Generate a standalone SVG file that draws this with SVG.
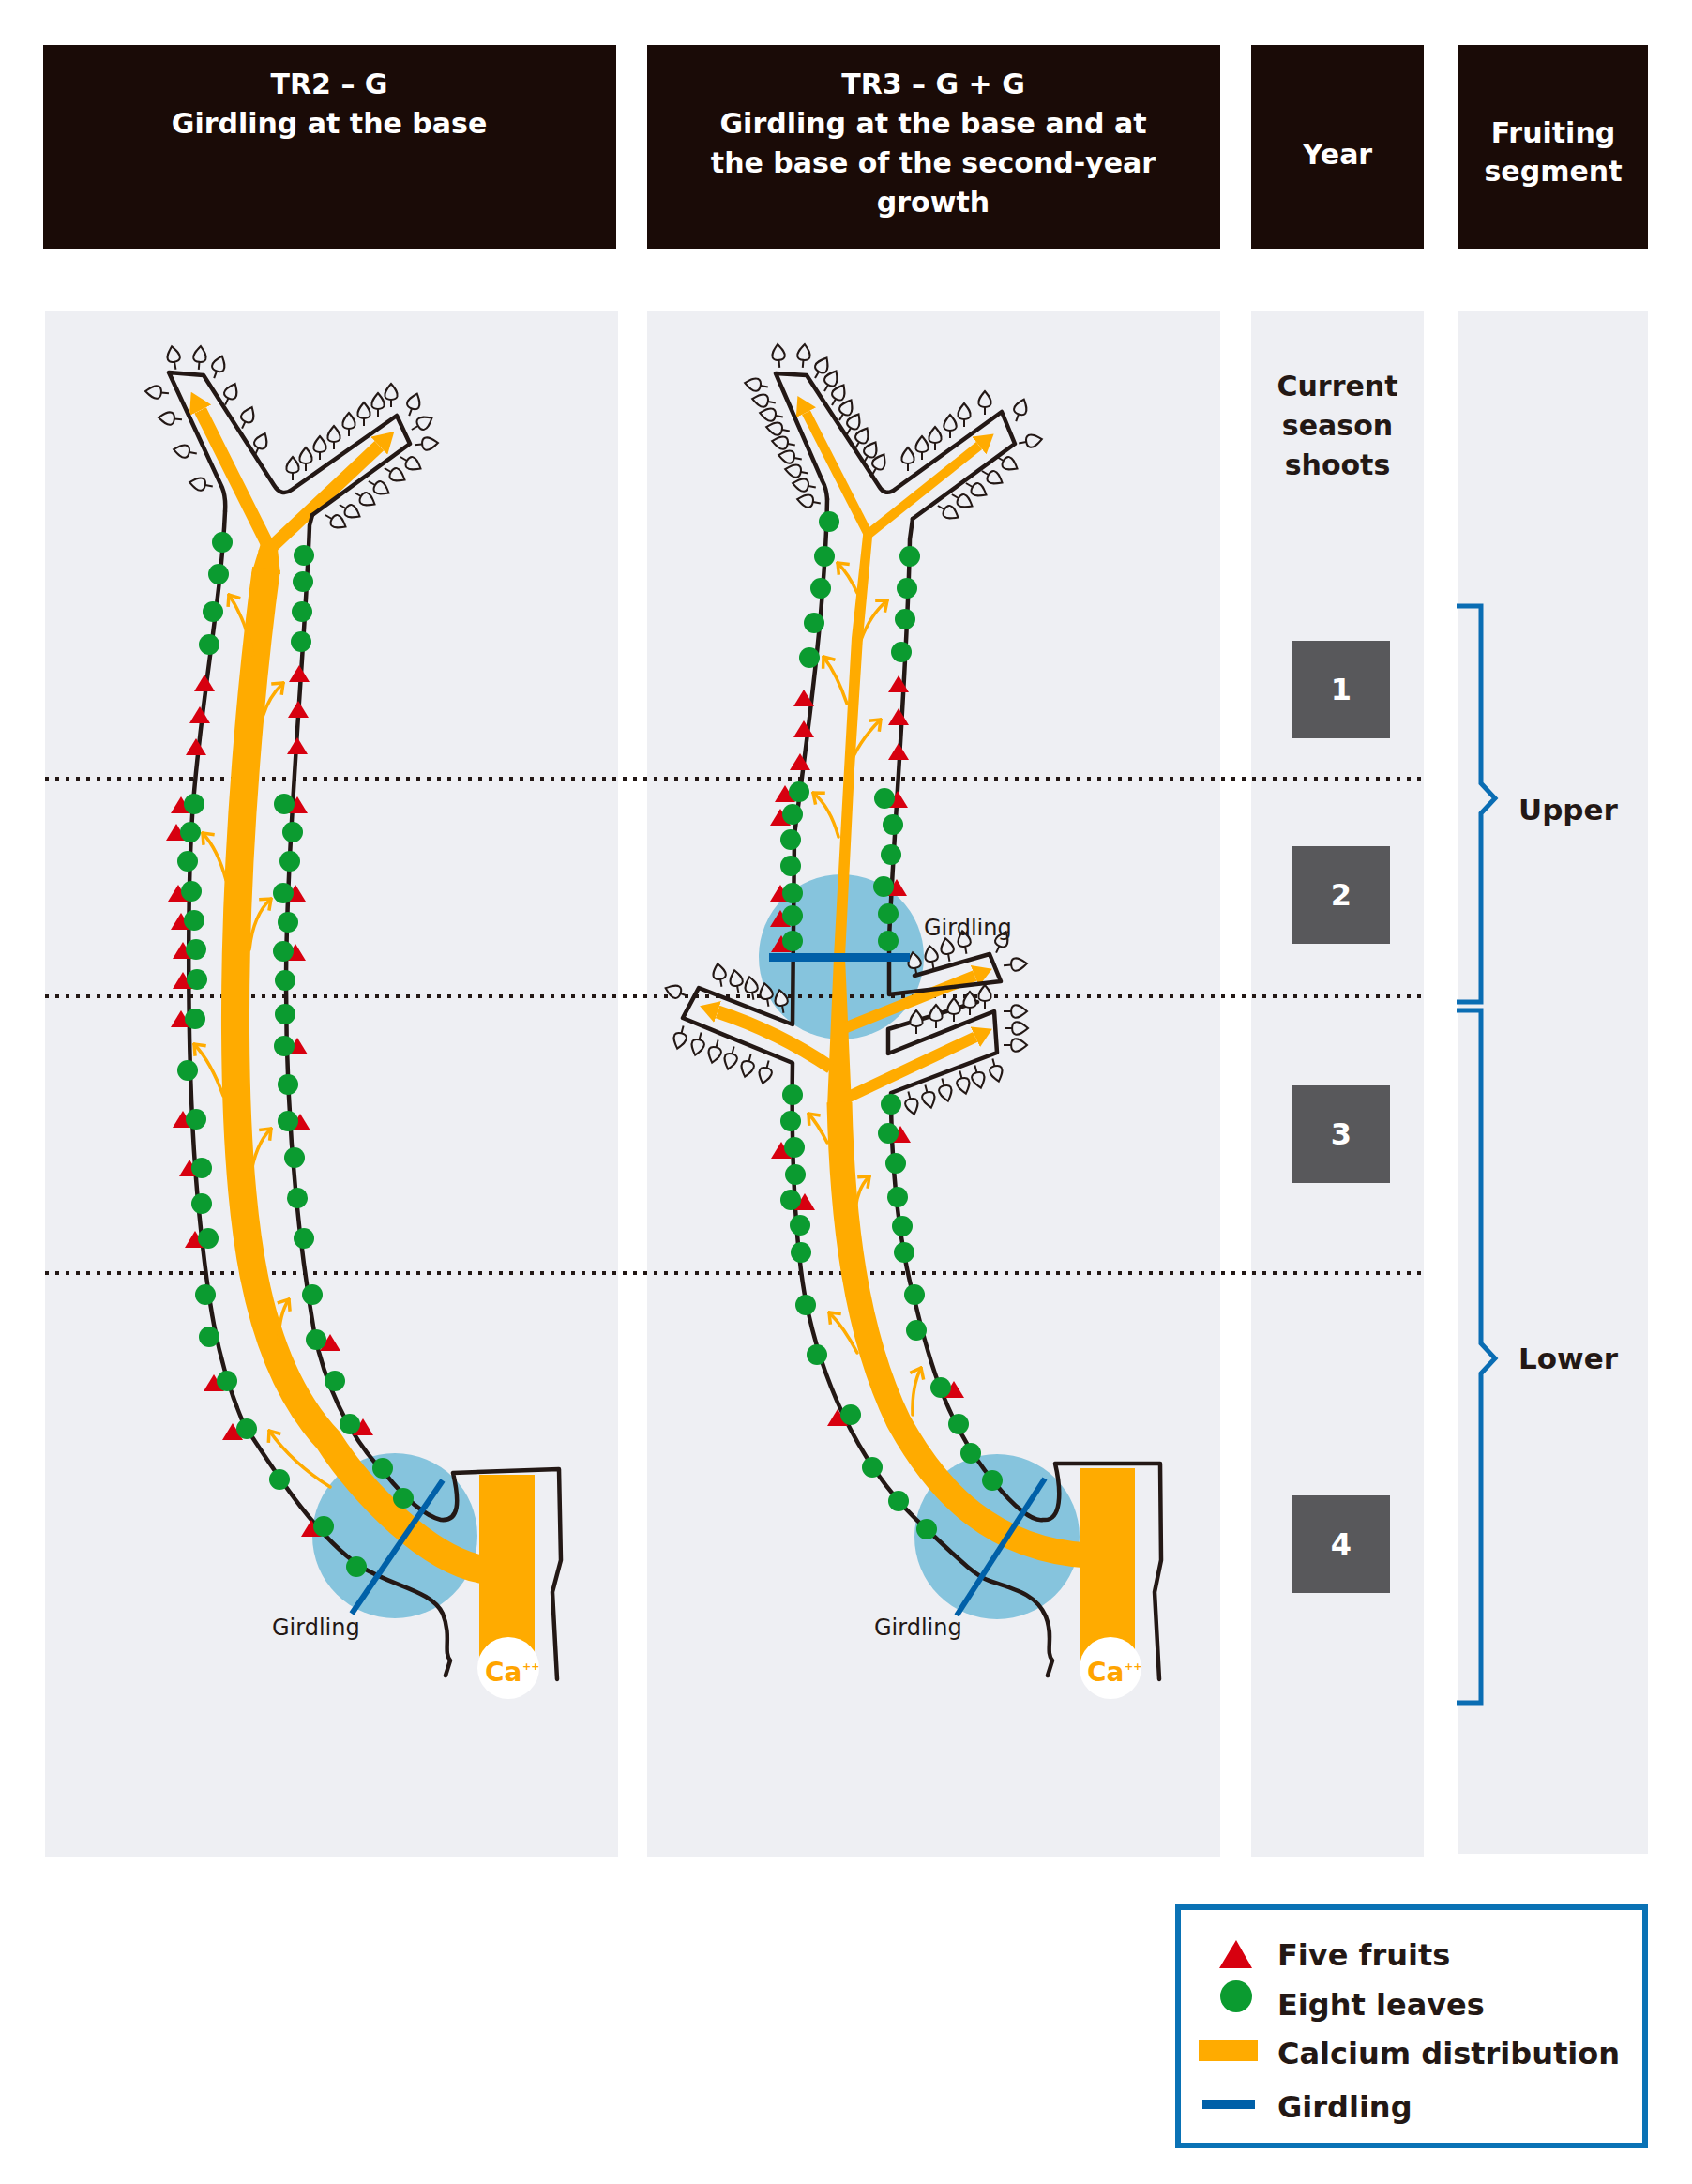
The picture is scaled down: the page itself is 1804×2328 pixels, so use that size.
<svg xmlns="http://www.w3.org/2000/svg" xmlns:xlink="http://www.w3.org/1999/xlink" width="1804" height="2328" viewBox="0 0 1804 2328">
<style>
.hd{fill:#1a0b07}
.pn{fill:#eeeff3}
.ht{font-family:"DejaVu Sans","Liberation Sans",sans-serif;font-weight:bold;font-size:30px;fill:#fff;text-anchor:middle}
.bt{font-family:"DejaVu Sans","Liberation Sans",sans-serif;font-weight:bold;font-size:30px;fill:#231815;text-anchor:middle}
.nb{font-family:"DejaVu Sans","Liberation Sans",sans-serif;font-weight:bold;font-size:32px;fill:#fff;text-anchor:middle}
.ul{font-family:"DejaVu Sans","Liberation Sans",sans-serif;font-weight:bold;font-size:31px;fill:#231815}
.lg{font-family:"DejaVu Sans","Liberation Sans",sans-serif;font-weight:bold;font-size:32px;fill:#231815}
.gl{font-family:"DejaVu Sans","Liberation Sans",sans-serif;font-size:24px;fill:#231815}
.ca{font-family:"DejaVu Sans","Liberation Sans",sans-serif;font-weight:bold;font-size:28px;fill:#ffa400}
.cap{font-family:"DejaVu Sans","Liberation Sans",sans-serif;font-weight:bold;font-size:11px;fill:#ffa400}
.dot{stroke:#231815;stroke-width:4;stroke-dasharray:4 7;fill:none}
.ln{fill:none;stroke:#231815;stroke-width:4.5;stroke-linejoin:round;stroke-linecap:round}
.or{fill:none;stroke:#ffab00;stroke-linecap:butt}
.th{fill:none;stroke:#ffab00;stroke-width:3.5;stroke-linecap:round}
.gc{fill:#86c4dd}
.gd{stroke:#0060a8;stroke-width:6}
.yb{fill:#58585b}
.br{fill:none;stroke:#0a6db3;stroke-width:5}
.lfs{fill:none;stroke:#231815;stroke-width:2}
.lfb{fill:#eeeff3;stroke:#231815;stroke-width:2}
.g{fill:#0b9b30}
.r{fill:#d7000f}
</style>
<defs>
<g id="lf"><path class="lfs" d="M0,6 L0,14"/><path class="lfb" d="M0,-11 C5,-5 7.5,-1.5 6.5,2.5 C5,7 -5,7 -6.5,2.5 C-7.5,-1.5 -5,-5 0,-11 Z"/></g>
<path id="tr" class="r" d="M-11,8 L11,8 L0,-10 Z"/>
<marker id="ah" markerUnits="userSpaceOnUse" viewBox="0 -13 22 26" refX="0" refY="0" markerWidth="22" markerHeight="26" orient="auto"><path d="M0,-13 L22,0 L0,13 Z" fill="#ffab00"/></marker>
<marker id="ah2" markerUnits="userSpaceOnUse" viewBox="0 -12 20 24" refX="0" refY="0" markerWidth="20" markerHeight="24" orient="auto"><path d="M0,-12 L20,0 L0,12 Z" fill="#ffab00"/></marker>
<marker id="ch" markerUnits="userSpaceOnUse" viewBox="-12 -10 14 20" refX="0" refY="0" markerWidth="14" markerHeight="20" orient="auto"><path d="M-10,-8 L0,0 L-10,8" fill="none" stroke="#ffab00" stroke-width="3.5" stroke-linejoin="miter"/></marker>
</defs>
<rect width="1804" height="2328" fill="#fff"/>

<g id="headers">
<rect class="hd" x="46" y="48" width="611" height="217"/>
<rect class="hd" x="690" y="48" width="611" height="217"/>
<rect class="hd" x="1334" y="48" width="184" height="217"/>
<rect class="hd" x="1555" y="48" width="202" height="217"/>
<text class="ht" x="351" y="100">TR2 – G</text>
<text class="ht" x="351" y="142">Girdling at the base</text>
<text class="ht" x="995" y="100">TR3 – G + G</text>
<text class="ht" x="995" y="142">Girdling at the base and at</text>
<text class="ht" x="995" y="184">the base of the second-year</text>
<text class="ht" x="995" y="226">growth</text>
<text class="ht" x="1426" y="175">Year</text>
<text class="ht" x="1656" y="152">Fruiting</text>
<text class="ht" x="1656" y="193">segment</text>
</g>

<g id="panels">
<rect class="pn" x="48" y="331" width="611" height="1648"/>
<rect class="pn" x="690" y="331" width="611" height="1648"/>
<rect class="pn" x="1334" y="331" width="184" height="1648"/>
<rect class="pn" x="1555" y="331" width="202" height="1645"/>
</g>

<g id="girdling-zones">
<circle class="gc" cx="421" cy="1637" r="88"/>
<circle class="gc" cx="897" cy="1020" r="88"/>
<circle class="gc" cx="1063" cy="1638" r="88"/>
</g>

<g id="dotted-lines">
<line class="dot" x1="48" y1="830" x2="1518" y2="830"/>
<line class="dot" x1="48" y1="1062" x2="1518" y2="1062"/>
<line class="dot" x1="48" y1="1357" x2="1518" y2="1357"/>
</g>

<g id="plant-tr2">
<g id="tr2-calcium">
<path class="or" stroke-width="14" d="M290,590 L213.6,437.3" marker-end="url(#ah)"/>
<path class="or" stroke-width="14" d="M280,592 L404.3,475.1" marker-end="url(#ah)"/>
<polygon points="279,576 295,576 299,612 268,612" fill="#ffab00"/>
<path class="or" stroke-width="30" d="M284,606 C271,700 250,900 251,1100 C252,1300 270,1450 350,1535 C385,1590 460,1668 522,1674"/>
<rect x="511" y="1572" width="59" height="206" fill="#ffab00"/>
<path class="th" d="M270,700 Q262,660 244,634" marker-end="url(#ch)"/>
<path class="th" d="M278,772 Q284,745 302,728" marker-end="url(#ch)"/>
<path class="th" d="M241,938 Q232,905 216,888" marker-end="url(#ch)"/>
<path class="th" d="M266,1012 Q270,975 289,958" marker-end="url(#ch)"/>
<path class="th" d="M238,1168 Q225,1132 207,1113" marker-end="url(#ch)"/>
<path class="th" d="M267,1255 Q272,1220 289,1203" marker-end="url(#ch)"/>
<path class="th" d="M297,1428 Q298,1400 308,1385" marker-end="url(#ch)"/>
<path class="th" d="M352,1585 Q312,1560 287,1525" marker-end="url(#ch)"/>
</g>
<g id="tr2-outline">
<path class="ln" d="M240,545 Q241,530 237,520 L180,397 L217,400 L292,517 Q300,530 311,522 L423,443 L437,473 L333,549"/>
<path class="ln" d="M240,545 C236,640 212,760 205,870 C200,950 198,1150 212,1290 C221,1380 230,1450 260,1518 C300,1580 340,1640 385,1670 C420,1692 460,1695 472,1720 C482,1745 472,1760 480,1770 L475,1786"/>
<path class="ln" d="M333,549 L330,560 C326,680 305,900 305,1050 C305,1200 318,1320 335,1420 C345,1470 370,1530 410,1570 C430,1595 450,1615 470,1620 C490,1622 490,1600 483,1570 L596,1566 L598,1663 L589,1697 L594,1790"/>
</g>
<g id="tr2-leaves">
<use href="#lf" transform="translate(185,380) rotate(-10)"/>
<use href="#lf" transform="translate(213,380) rotate(5)"/>
<use href="#lf" transform="translate(233,390) rotate(20)"/>
<use href="#lf" transform="translate(246,419) rotate(25)"/>
<use href="#lf" transform="translate(264,444) rotate(25)"/>
<use href="#lf" transform="translate(278,472) rotate(25)"/>
<use href="#lf" transform="translate(166,418) rotate(-85)"/>
<use href="#lf" transform="translate(180,446) rotate(-85)"/>
<use href="#lf" transform="translate(196,481) rotate(-80)"/>
<use href="#lf" transform="translate(213,516) rotate(-80)"/>
<use href="#lf" transform="translate(312,498) rotate(0)"/>
<use href="#lf" transform="translate(326,488) rotate(0)"/>
<use href="#lf" transform="translate(341,476) rotate(0)"/>
<use href="#lf" transform="translate(356,465) rotate(0)"/>
<use href="#lf" transform="translate(372,451) rotate(0)"/>
<use href="#lf" transform="translate(388,440) rotate(0)"/>
<use href="#lf" transform="translate(403,430) rotate(0)"/>
<use href="#lf" transform="translate(417,420) rotate(0)"/>
<use href="#lf" transform="translate(441,430) rotate(20)"/>
<use href="#lf" transform="translate(451,451) rotate(60)"/>
<use href="#lf" transform="translate(456,473) rotate(85)"/>
<use href="#lf" transform="translate(439,494) rotate(120)"/>
<use href="#lf" transform="translate(422,506) rotate(120)"/>
<use href="#lf" transform="translate(405,520) rotate(120)"/>
<use href="#lf" transform="translate(390,532) rotate(120)"/>
<use href="#lf" transform="translate(374,545) rotate(120)"/>
<use href="#lf" transform="translate(359,556) rotate(120)"/>
</g>
<circle cx="542" cy="1778" r="33" fill="#fff"/>
<text class="ca" x="517" y="1792">Ca</text><text class="cap" x="557" y="1780">++</text>
<line class="gd" x1="472" y1="1578" x2="375" y2="1720"/>
<g id="tr2-fruits">
<use href="#tr" x="218" y="729"/><use href="#tr" x="213" y="763"/><use href="#tr" x="209" y="797"/><use href="#tr" x="193" y="859"/><use href="#tr" x="188" y="888"/><use href="#tr" x="190" y="953"/><use href="#tr" x="193" y="983"/><use href="#tr" x="195" y="1014"/><use href="#tr" x="195" y="1046"/><use href="#tr" x="193" y="1087"/><use href="#tr" x="195" y="1194"/><use href="#tr" x="202" y="1246"/><use href="#tr" x="208" y="1322"/><use href="#tr" x="228" y="1475"/><use href="#tr" x="248" y="1527"/><use href="#tr" x="332" y="1630"/>
<use href="#tr" x="319" y="719"/><use href="#tr" x="318" y="757"/><use href="#tr" x="317" y="796"/><use href="#tr" x="317" y="859"/><use href="#tr" x="315" y="953"/><use href="#tr" x="315" y="1016"/><use href="#tr" x="317" y="1116"/><use href="#tr" x="320" y="1197"/><use href="#tr" x="352" y="1432"/><use href="#tr" x="387" y="1522"/>
</g>
<g id="tr2-leafdots" class="g">
<circle cx="237" cy="578" r="11"/><circle cx="233" cy="612" r="11"/><circle cx="227" cy="652" r="11"/><circle cx="223" cy="687" r="11"/><circle cx="207" cy="857" r="11"/><circle cx="203" cy="887" r="11"/><circle cx="200" cy="918" r="11"/><circle cx="204" cy="950" r="11"/><circle cx="207" cy="981" r="11"/><circle cx="209" cy="1012" r="11"/><circle cx="210" cy="1044" r="11"/><circle cx="208" cy="1086" r="11"/><circle cx="200" cy="1141" r="11"/><circle cx="209" cy="1193" r="11"/><circle cx="215" cy="1245" r="11"/><circle cx="215" cy="1283" r="11"/><circle cx="222" cy="1320" r="11"/><circle cx="219" cy="1380" r="11"/><circle cx="223" cy="1425" r="11"/><circle cx="242" cy="1472" r="11"/><circle cx="263" cy="1523" r="11"/><circle cx="298" cy="1577" r="11"/><circle cx="345" cy="1627" r="11"/><circle cx="380" cy="1670" r="11"/>
<circle cx="324" cy="592" r="11"/><circle cx="323" cy="620" r="11"/><circle cx="322" cy="652" r="11"/><circle cx="321" cy="684" r="11"/><circle cx="303" cy="857" r="11"/><circle cx="312" cy="887" r="11"/><circle cx="309" cy="918" r="11"/><circle cx="302" cy="952" r="11"/><circle cx="307" cy="983" r="11"/><circle cx="302" cy="1014" r="11"/><circle cx="304" cy="1045" r="11"/><circle cx="304" cy="1081" r="11"/><circle cx="303" cy="1115" r="11"/><circle cx="307" cy="1156" r="11"/><circle cx="307" cy="1195" r="11"/><circle cx="314" cy="1234" r="11"/><circle cx="317" cy="1277" r="11"/><circle cx="324" cy="1320" r="11"/><circle cx="333" cy="1380" r="11"/><circle cx="337" cy="1428" r="11"/><circle cx="357" cy="1472" r="11"/><circle cx="373" cy="1518" r="11"/><circle cx="408" cy="1565" r="11"/><circle cx="430" cy="1597" r="11"/>
</g>
<text class="gl" x="290" y="1743">Girdling</text>
</g>

<g id="plant-tr3">
<g id="tr3-calcium">
<path class="or" stroke-width="10" d="M927,572 L859.5,439.7" marker-end="url(#ah2)"/>
<path class="or" stroke-width="10" d="M925,570 L1044,475" marker-end="url(#ah2)"/>
<polygon points="921,562 931,562 920,680 911,820 901,1020 908,1180 882,1180 889,1020 900,820 908,680" fill="#ffab00"/>
<path class="or" stroke-width="27" d="M895,1175 C898,1300 912,1420 958,1515 C1000,1592 1060,1652 1160,1658"/>
<path class="or" stroke-width="12" d="M900,1096 L1039.3,1040.1" marker-end="url(#ah2)"/>
<path class="or" stroke-width="12" d="M903,1170 L1039.8,1105.3" marker-end="url(#ah2)"/>
<path class="or" stroke-width="14" d="M886,1138 Q830,1100 765.1,1078.5" marker-end="url(#ah2)"/>
<rect x="1152" y="1565" width="58" height="213" fill="#ffab00"/>
<path class="th" d="M914,632 Q905,612 893,600" marker-end="url(#ch)"/>
<path class="th" d="M918,682 Q928,655 946,640" marker-end="url(#ch)"/>
<path class="th" d="M903,750 Q893,720 878,700" marker-end="url(#ch)"/>
<path class="th" d="M903,822 Q915,790 939,767" marker-end="url(#ch)"/>
<path class="th" d="M894,892 Q885,860 867,845" marker-end="url(#ch)"/>
<path class="th" d="M882,1218 Q872,1198 862,1187" marker-end="url(#ch)"/>
<path class="th" d="M912,1288 Q915,1265 927,1254" marker-end="url(#ch)"/>
<path class="th" d="M914,1442 Q900,1415 884,1399" marker-end="url(#ch)"/>
<path class="th" d="M973,1508 Q972,1478 982,1458" marker-end="url(#ch)"/>
</g>
<g id="tr3-outline">
<path class="ln" d="M882,532 Q881,520 877,513 L827,398 L860,400 L937,518 Q944,530 955,521 L1068,439 L1082,473 L973,553"/>
<path class="ln" d="M882,532 C880,650 860,790 847,890 L845,1092 L745,1053 L728,1085 L845,1133 C843,1250 850,1350 862,1400 C880,1480 920,1570 988,1630 C1020,1660 1040,1680 1055,1685 C1085,1695 1105,1700 1115,1723 C1124,1745 1114,1760 1122,1770 L1117,1786"/>
<path class="ln" d="M973,553 L970,575 C968,700 955,850 948,1000 L948,1060 L1067,1046 L1055,1017 L975,1040"/>
<path class="ln" d="M1042,1068 L947,1097 L947,1123 L1060,1078 L1063,1122 L950,1165 C950,1260 962,1340 975,1385 C990,1450 1010,1520 1060,1580 C1080,1605 1100,1622 1112,1620 C1132,1622 1132,1590 1125,1560 L1237,1560 L1238,1663 L1231,1697 L1236,1790"/>
</g>
<g id="tr3-leaves">
<use href="#lf" transform="translate(805,410) rotate(-80)"/>
<use href="#lf" transform="translate(813,427) rotate(-80)"/>
<use href="#lf" transform="translate(821,442) rotate(-80)"/>
<use href="#lf" transform="translate(828,457) rotate(-80)"/>
<use href="#lf" transform="translate(834,472) rotate(-80)"/>
<use href="#lf" transform="translate(841,487) rotate(-80)"/>
<use href="#lf" transform="translate(848,502) rotate(-80)"/>
<use href="#lf" transform="translate(856,517) rotate(-80)"/>
<use href="#lf" transform="translate(861,534) rotate(-80)"/>
<use href="#lf" transform="translate(830,378) rotate(-5)"/>
<use href="#lf" transform="translate(857,378) rotate(5)"/>
<use href="#lf" transform="translate(876,391) rotate(30)"/>
<use href="#lf" transform="translate(886,405) rotate(30)"/>
<use href="#lf" transform="translate(894,420) rotate(30)"/>
<use href="#lf" transform="translate(902,436) rotate(30)"/>
<use href="#lf" transform="translate(910,451) rotate(30)"/>
<use href="#lf" transform="translate(919,466) rotate(30)"/>
<use href="#lf" transform="translate(928,481) rotate(30)"/>
<use href="#lf" transform="translate(937,494) rotate(30)"/>
<use href="#lf" transform="translate(968,488) rotate(0)"/>
<use href="#lf" transform="translate(983,476) rotate(0)"/>
<use href="#lf" transform="translate(997,466) rotate(0)"/>
<use href="#lf" transform="translate(1013,453) rotate(0)"/>
<use href="#lf" transform="translate(1028,441) rotate(0)"/>
<use href="#lf" transform="translate(1050,428) rotate(0)"/>
<use href="#lf" transform="translate(1088,436) rotate(20)"/>
<use href="#lf" transform="translate(1100,470) rotate(80)"/>
<use href="#lf" transform="translate(1075,494) rotate(120)"/>
<use href="#lf" transform="translate(1059,509) rotate(120)"/>
<use href="#lf" transform="translate(1042,522) rotate(120)"/>
<use href="#lf" transform="translate(1027,534) rotate(120)"/>
<use href="#lf" transform="translate(1012,546) rotate(120)"/>
<use href="#lf" transform="translate(975,1026) rotate(-10)"/>
<use href="#lf" transform="translate(993,1019) rotate(-10)"/>
<use href="#lf" transform="translate(1010,1011) rotate(-10)"/>
<use href="#lf" transform="translate(1028,1003) rotate(-10)"/>
<use href="#lf" transform="translate(1068,1003) rotate(25)"/>
<use href="#lf" transform="translate(1084,1028) rotate(85)"/>
<use href="#lf" transform="translate(977,1088) rotate(0)"/>
<use href="#lf" transform="translate(998,1082) rotate(0)"/>
<use href="#lf" transform="translate(1017,1075) rotate(0)"/>
<use href="#lf" transform="translate(1034,1068) rotate(0)"/>
<use href="#lf" transform="translate(1050,1061) rotate(0)"/>
<use href="#lf" transform="translate(1084,1078) rotate(90)"/>
<use href="#lf" transform="translate(1085,1096) rotate(90)"/>
<use href="#lf" transform="translate(1084,1114) rotate(90)"/>
<use href="#lf" transform="translate(972,1177) rotate(165)"/>
<use href="#lf" transform="translate(990,1170) rotate(165)"/>
<use href="#lf" transform="translate(1008,1163) rotate(165)"/>
<use href="#lf" transform="translate(1027,1155) rotate(165)"/>
<use href="#lf" transform="translate(1043,1149) rotate(165)"/>
<use href="#lf" transform="translate(1062,1142) rotate(165)"/>
<use href="#lf" transform="translate(767,1038) rotate(-10)"/>
<use href="#lf" transform="translate(785,1045) rotate(-10)"/>
<use href="#lf" transform="translate(801,1052) rotate(-10)"/>
<use href="#lf" transform="translate(817,1059) rotate(-10)"/>
<use href="#lf" transform="translate(833,1066) rotate(-10)"/>
<use href="#lf" transform="translate(720,1057) rotate(-70)"/>
<use href="#lf" transform="translate(725,1107) rotate(195)"/>
<use href="#lf" transform="translate(744,1114) rotate(195)"/>
<use href="#lf" transform="translate(762,1122) rotate(195)"/>
<use href="#lf" transform="translate(779,1129) rotate(195)"/>
<use href="#lf" transform="translate(797,1137) rotate(195)"/>
<use href="#lf" transform="translate(816,1144) rotate(195)"/>
</g>
<rect x="820" y="1016" width="150" height="9" fill="#0060a8"/>
<circle cx="1184" cy="1778" r="33" fill="#fff"/>
<text class="ca" x="1159" y="1792">Ca</text><text class="cap" x="1199" y="1780">++</text>
<line class="gd" x1="1114" y1="1576" x2="1020" y2="1722"/>
<g id="tr3-fruits">
<use href="#tr" x="857" y="745"/><use href="#tr" x="857" y="778"/><use href="#tr" x="853" y="813"/><use href="#tr" x="837" y="847"/><use href="#tr" x="832" y="872"/><use href="#tr" x="832" y="953"/><use href="#tr" x="832" y="980"/><use href="#tr" x="833" y="1007"/><use href="#tr" x="833" y="1227"/><use href="#tr" x="858" y="1282"/><use href="#tr" x="893" y="1512"/>
<use href="#tr" x="958" y="730"/><use href="#tr" x="958" y="765"/><use href="#tr" x="958" y="802"/><use href="#tr" x="957" y="853"/><use href="#tr" x="956" y="947"/><use href="#tr" x="960" y="1210"/><use href="#tr" x="1017" y="1482"/>
</g>
<g id="tr3-leafdots" class="g">
<circle cx="884" cy="556" r="11"/><circle cx="879" cy="593" r="11"/><circle cx="875" cy="627" r="11"/><circle cx="868" cy="664" r="11"/><circle cx="863" cy="701" r="11"/><circle cx="852" cy="844" r="11"/><circle cx="845" cy="868" r="11"/><circle cx="843" cy="895" r="11"/><circle cx="843" cy="923" r="11"/><circle cx="845" cy="952" r="11"/><circle cx="845" cy="976" r="11"/><circle cx="845" cy="1003" r="11"/><circle cx="845" cy="1167" r="11"/><circle cx="843" cy="1195" r="11"/><circle cx="847" cy="1223" r="11"/><circle cx="848" cy="1252" r="11"/><circle cx="843" cy="1279" r="11"/><circle cx="853" cy="1306" r="11"/><circle cx="854" cy="1335" r="11"/><circle cx="859" cy="1391" r="11"/><circle cx="871" cy="1444" r="11"/><circle cx="907" cy="1508" r="11"/><circle cx="930" cy="1564" r="11"/><circle cx="958" cy="1600" r="11"/><circle cx="988" cy="1630" r="11"/>
<circle cx="970" cy="593" r="11"/><circle cx="967" cy="627" r="11"/><circle cx="965" cy="660" r="11"/><circle cx="961" cy="695" r="11"/><circle cx="943" cy="851" r="11"/><circle cx="952" cy="879" r="11"/><circle cx="950" cy="911" r="11"/><circle cx="942" cy="945" r="11"/><circle cx="947" cy="974" r="11"/><circle cx="947" cy="1003" r="11"/><circle cx="950" cy="1177" r="11"/><circle cx="947" cy="1208" r="11"/><circle cx="955" cy="1240" r="11"/><circle cx="957" cy="1276" r="11"/><circle cx="962" cy="1307" r="11"/><circle cx="964" cy="1335" r="11"/><circle cx="975" cy="1380" r="11"/><circle cx="977" cy="1418" r="11"/><circle cx="1003" cy="1479" r="11"/><circle cx="1022" cy="1518" r="11"/><circle cx="1035" cy="1549" r="11"/><circle cx="1058" cy="1578" r="11"/>
</g>
<text class="gl" x="985" y="997">Girdling</text>
<text class="gl" x="932" y="1743">Girdling</text>
</g>

<g id="year-column">
<text class="bt" x="1426" y="422">Current</text>
<text class="bt" x="1426" y="464">season</text>
<text class="bt" x="1426" y="506">shoots</text>
<g id="year-1"><rect class="yb" x="1378" y="683" width="104" height="104"/><text class="nb" x="1430" y="746">1</text></g>
<g id="year-2"><rect class="yb" x="1378" y="902" width="104" height="104"/><text class="nb" x="1430" y="965">2</text></g>
<g id="year-3"><rect class="yb" x="1378" y="1157" width="104" height="104"/><text class="nb" x="1430" y="1220">3</text></g>
<g id="year-4"><rect class="yb" x="1378" y="1594" width="104" height="104"/><text class="nb" x="1430" y="1657">4</text></g>
</g>

<g id="segments">
<path class="br" d="M1553,646 L1579,646 L1579,835 L1594,851 L1579,867 L1579,1068 L1553,1068"/>
<path class="br" d="M1553,1077 L1579,1077 L1579,1432 L1594,1448 L1579,1464 L1579,1815 L1553,1815"/>
<text class="ul" x="1619" y="874">Upper</text>
<text class="ul" x="1619" y="1459">Lower</text>
</g>

<g id="legend">
<rect x="1256" y="2033" width="498" height="254" fill="#fff" stroke="#0a72b5" stroke-width="6"/>
<polygon points="1300,2098 1335,2098 1318,2068" class="r"/>
<circle cx="1318" cy="2128" r="17" class="g"/>
<rect x="1278" y="2174" width="63" height="23" fill="#ffab00"/>
<rect x="1282" y="2238" width="56" height="10" fill="#0060a8"/>
<text class="lg" x="1362" y="2095">Five fruits</text>
<text class="lg" x="1362" y="2148">Eight leaves</text>
<text class="lg" x="1362" y="2200">Calcium distribution</text>
<text class="lg" x="1362" y="2257">Girdling</text>
</g>
</svg>
